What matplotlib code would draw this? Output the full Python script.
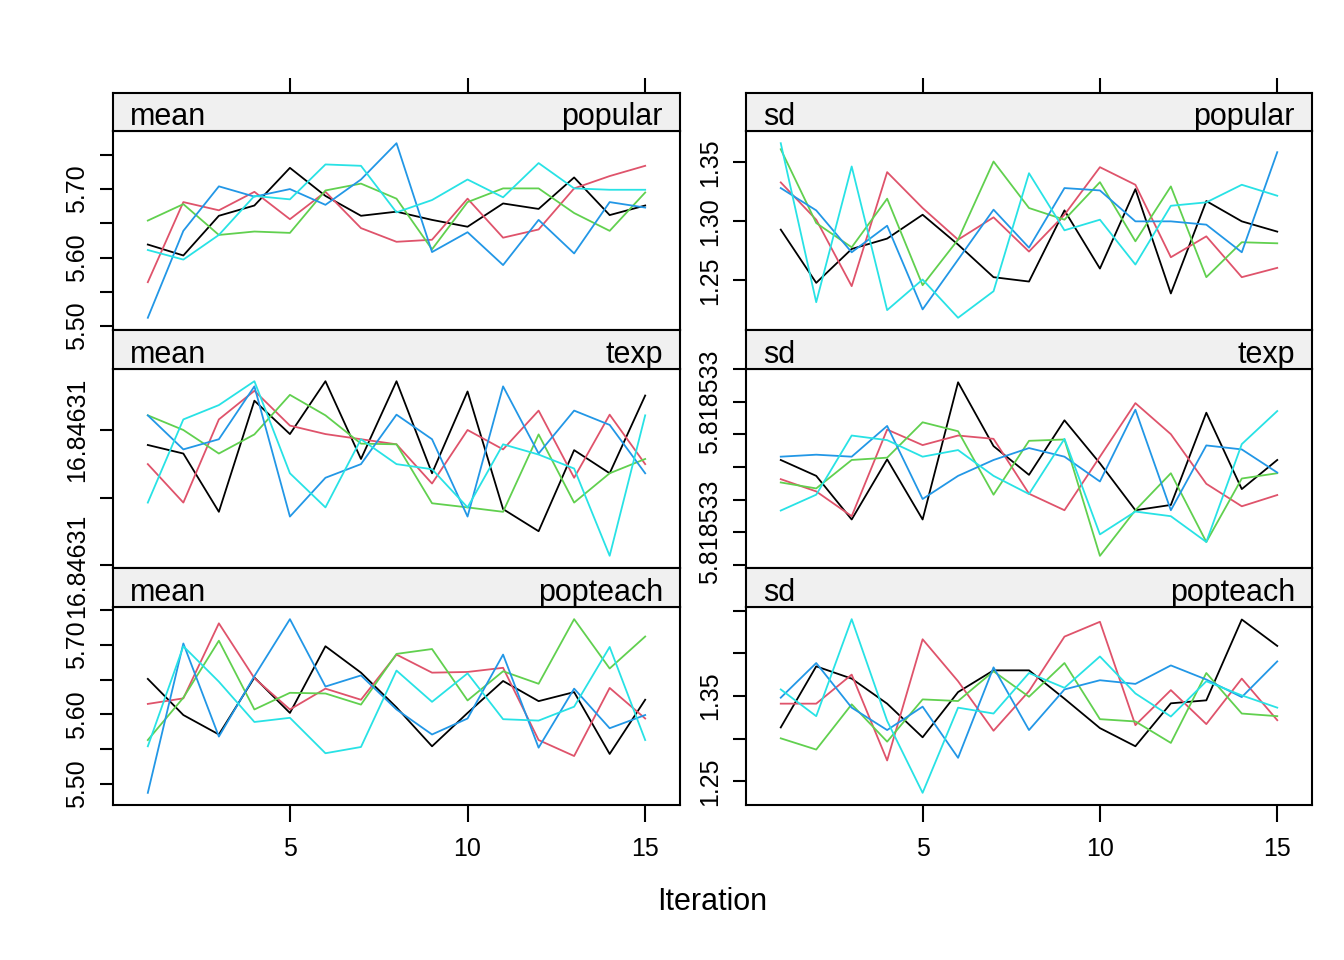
import numpy as np
import matplotlib.pyplot as plt

plt.rcParams['font.family'] = ['Liberation Sans', 'DejaVu Sans']

# iterations and chain colours (R 4 palette)
iterations = np.arange(1, 16)
chain_colors = ['#000000', '#DF536B', '#61D04F', '#2297E6', '#28E2E5']

# mean of popular, one row per chain
mean_popular = [
    [5.619, 5.603, 5.661, 5.676, 5.731, 5.690, 5.661, 5.667, 5.655, 5.645, 5.679, 5.671, 5.717, 5.662, 5.676],
    [5.564, 5.681, 5.669, 5.696, 5.656, 5.696, 5.643, 5.623, 5.626, 5.686, 5.629, 5.641, 5.701, 5.719, 5.734],
    [5.654, 5.678, 5.633, 5.638, 5.636, 5.698, 5.708, 5.686, 5.612, 5.681, 5.701, 5.701, 5.665, 5.639, 5.695],
    [5.512, 5.639, 5.704, 5.689, 5.700, 5.677, 5.714, 5.767, 5.608, 5.637, 5.589, 5.655, 5.606, 5.681, 5.673],
    [5.611, 5.597, 5.633, 5.690, 5.685, 5.736, 5.734, 5.666, 5.684, 5.714, 5.688, 5.738, 5.701, 5.699, 5.699],
]

# sd of popular
sd_popular = [
    [1.2930, 1.2479, 1.2766, 1.2854, 1.3056, 1.2803, 1.2527, 1.2490, 1.3093, 1.2600, 1.3273, 1.2389, 1.3172, 1.3000, 1.2913],
    [1.3330, 1.3014, 1.2451, 1.3417, 1.3113, 1.2845, 1.3034, 1.2744, 1.3056, 1.3459, 1.3310, 1.2696, 1.2873, 1.2527, 1.2606],
    [1.3611, 1.2986, 1.2780, 1.3192, 1.2459, 1.2845, 1.3507, 1.3113, 1.3014, 1.3332, 1.2831, 1.3296, 1.2527, 1.2823, 1.2814],
    [1.3282, 1.3093, 1.2738, 1.2963, 1.2254, 1.2676, 1.3099, 1.2777, 1.3282, 1.3262, 1.3000, 1.3000, 1.2972, 1.2738, 1.3586],
    [1.3662, 1.2315, 1.3465, 1.2248, 1.2507, 1.2183, 1.2408, 1.3408, 1.2924, 1.3014, 1.2634, 1.3132, 1.3161, 1.3310, 1.3217],
]

# mean of texp: differences are below the printed precision,
# so values are offsets in units of the tick step
mean_texp = [
    [1.774, 1.648, 0.789, 2.427, 1.935, 2.714, 1.568, 2.714, 1.357, 2.563, 0.829, 0.503, 1.698, 1.357, 2.503],
    [1.492, 0.925, 2.151, 2.573, 2.060, 1.935, 1.859, 1.784, 1.206, 1.995, 1.709, 2.281, 1.291, 2.221, 1.492],
    [2.211, 1.995, 1.648, 1.930, 2.513, 2.211, 1.794, 1.784, 0.915, 0.854, 0.789, 1.930, 0.925, 1.357, 1.568],
    [2.211, 1.709, 1.859, 2.638, 0.719, 1.291, 1.492, 2.221, 1.859, 0.719, 2.638, 1.648, 2.281, 2.070, 1.357],
    [0.925, 2.151, 2.362, 2.714, 1.357, 0.854, 1.859, 1.492, 1.417, 0.854, 1.784, 1.633, 1.427, 0.141, 2.211],
]
mean_texp_ticks = [0, 1, 2]
mean_texp_labels = ['16.84631', '', '16.84631']

# sd of texp, same kind of offsets
sd_texp = [
    [3.212, 2.725, 1.388, 3.232, 1.388, 5.593, 3.637, 2.756, 4.428, 3.110, 1.672, 1.834, 4.661, 2.320, 3.212],
    [2.624, 2.249, 1.489, 4.144, 3.668, 3.961, 3.860, 2.178, 1.672, 3.313, 4.954, 4.002, 2.482, 1.793, 2.138],
    [2.523, 2.340, 3.212, 3.283, 4.367, 4.093, 2.148, 3.799, 3.840, 0.274, 1.672, 2.806, 0.699, 2.644, 2.806],
    [3.313, 3.374, 3.313, 4.255, 2.016, 2.725, 3.212, 3.577, 3.313, 2.553, 4.752, 1.672, 3.658, 3.536, 2.827],
    [1.662, 2.148, 3.961, 3.820, 3.313, 3.516, 2.725, 2.168, 3.860, 0.932, 1.631, 1.489, 0.699, 3.698, 4.711],
]
sd_texp_ticks = [0, 1, 2, 3, 4, 5, 6]
sd_texp_labels = ['', '5.818533', '', '', '', '5.818533', '']

# mean of popteach
mean_popteach = [
    [5.651, 5.599, 5.571, 5.653, 5.602, 5.698, 5.660, 5.610, 5.554, 5.602, 5.648, 5.619, 5.632, 5.543, 5.621],
    [5.615, 5.623, 5.731, 5.652, 5.607, 5.637, 5.621, 5.686, 5.660, 5.661, 5.667, 5.563, 5.540, 5.638, 5.594],
    [5.563, 5.624, 5.706, 5.607, 5.631, 5.630, 5.614, 5.687, 5.694, 5.620, 5.662, 5.644, 5.737, 5.666, 5.712],
    [5.487, 5.702, 5.568, 5.655, 5.737, 5.640, 5.656, 5.607, 5.571, 5.594, 5.686, 5.552, 5.637, 5.580, 5.599],
    [5.554, 5.698, 5.647, 5.589, 5.595, 5.544, 5.553, 5.663, 5.618, 5.659, 5.593, 5.591, 5.611, 5.697, 5.563],
]

# sd of popteach
sd_popteach = [
    [1.3132, 1.3849, 1.3705, 1.3411, 1.3016, 1.3547, 1.3802, 1.3802, 1.3469, 1.3124, 1.2911, 1.3415, 1.3450, 1.4399, 1.4089],
    [1.3411, 1.3411, 1.3752, 1.2744, 1.4167, 1.3674, 1.3093, 1.3558, 1.4198, 1.4372, 1.3159, 1.3570, 1.3171, 1.3705, 1.3217],
    [1.3004, 1.2872, 1.3403, 1.2965, 1.3461, 1.3442, 1.3791, 1.3492, 1.3888, 1.3229, 1.3202, 1.2950, 1.3771, 1.3295, 1.3264],
    [1.3481, 1.3888, 1.3364, 1.3101, 1.3376, 1.2775, 1.3837, 1.3101, 1.3578, 1.3686, 1.3643, 1.3860, 1.3694, 1.3488, 1.3907],
    [1.3578, 1.3264, 1.4403, 1.3209, 1.2364, 1.3364, 1.3295, 1.3771, 1.3597, 1.3965, 1.3531, 1.3260, 1.3674, 1.3508, 1.3364],
]

mean_ticks = [5.50, 5.55, 5.60, 5.65, 5.70, 5.75]
mean_labels = ['5.50', '', '5.60', '', '5.70', '']
sd_pop_ticks = [1.25, 1.30, 1.35]
sd_pop_labels = ['1.25', '1.30', '1.35']
sd_pt_ticks = [1.25, 1.30, 1.35, 1.40, 1.45]
sd_pt_labels = ['1.25', '', '1.35', '', '']

x_ticks = [5, 10, 15]

W, H = 1344, 960
fig = plt.figure(figsize=(W / 100, H / 100), dpi=100)

col_px = [(113, 680), (746, 1312)]
row_px = [(93, 131, 330), (330, 369, 568), (568, 607, 805)]

panels = [
    (0, 0, 'mean', 'popular', mean_popular, mean_ticks, mean_labels),
    (0, 1, 'sd', 'popular', sd_popular, sd_pop_ticks, sd_pop_labels),
    (1, 0, 'mean', 'texp', mean_texp, mean_texp_ticks, mean_texp_labels),
    (1, 1, 'sd', 'texp', sd_texp, sd_texp_ticks, sd_texp_labels),
    (2, 0, 'mean', 'popteach', mean_popteach, mean_ticks, mean_labels),
    (2, 1, 'sd', 'popteach', sd_popteach, sd_pt_ticks, sd_pt_labels),
]

lw_box = 1.5
for r, c, stat, var, data, yt, yl in panels:
    x0, x1 = col_px[c]
    y0, ys, y1 = row_px[r]
    ax = fig.add_axes([x0 / W, 1 - y1 / H, (x1 - x0) / W, (y1 - ys) / H])
    st = fig.add_axes([x0 / W, 1 - ys / H, (x1 - x0) / W, (ys - y0) / H])

    for k, series in enumerate(data):
        ax.plot(iterations, series, color=chain_colors[k], lw=1.3)

    arr = np.array(data)
    lo, hi = arr.min(), arr.max()
    pad = 0.07 * (hi - lo)
    ax.set_ylim(lo - pad, hi + pad)
    ax.set_xlim(1 - 0.07 * 14, 15 + 0.07 * 14)

    ax.set_yticks(yt)
    ax.set_yticklabels(yl, rotation=90, va='center')
    ax.tick_params(axis='y', length=9.4, width=lw_box, direction='out',
                   labelsize=18, pad=8)
    if r == 2:
        ax.set_xticks(x_ticks)
        ax.tick_params(axis='x', length=12, width=lw_box, direction='out',
                       labelsize=18, pad=11)
    else:
        ax.set_xticks([])
    for s in ax.spines.values():
        s.set_linewidth(lw_box)

    st.set_facecolor('#F0F0F0')
    st.set_xlim(ax.get_xlim())
    st.set_ylim(0, 1)
    st.set_yticks([])
    if r == 0:
        st.set_xticks(x_ticks)
        st.xaxis.tick_top()
        st.tick_params(axis='x', length=11, width=lw_box, direction='out',
                       labeltop=False)
    else:
        st.set_xticks([])
    for s in st.spines.values():
        s.set_linewidth(lw_box)
    st.text(17 / (x1 - x0), 0.16, stat, transform=st.transAxes,
            fontsize=22, ha='left', va='baseline')
    st.text(1 - 17 / (x1 - x0), 0.16, var, transform=st.transAxes,
            fontsize=22, ha='right', va='baseline')

fig.text(712 / W, 1 - 902 / H, 'Iteration', fontsize=22, ha='center', va='center')

fig.savefig('out.png', dpi=100)
